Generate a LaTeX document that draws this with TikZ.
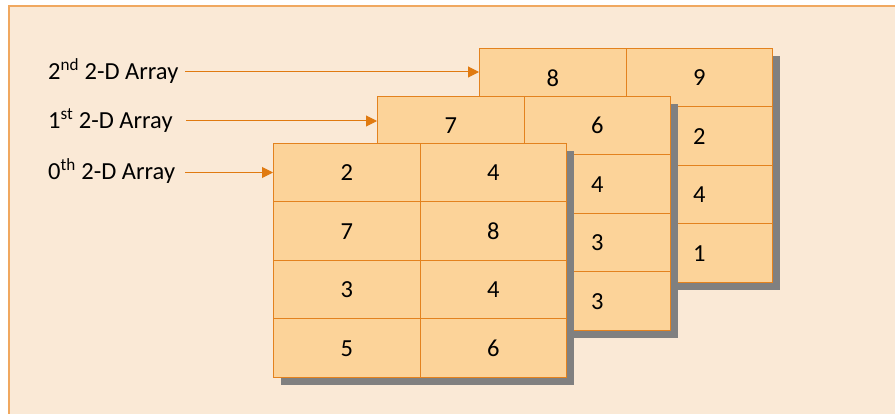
\documentclass[tikz,border=0pt]{standalone}
\usepackage{fontspec}
\setmainfont{Carlito}
\usetikzlibrary{arrows.meta}
\definecolor{bgfill}{HTML}{FAE9D6}
\definecolor{bgline}{HTML}{F0A860}
\definecolor{cellfill}{HTML}{FCD399}
\definecolor{cellline}{HTML}{E3821E}
\definecolor{arrowc}{HTML}{E07A10}
\definecolor{shadowc}{HTML}{808080}
\begin{document}
\begin{tikzpicture}[x=1pt,y=-1pt,
  cellbox/.style={draw=cellline, fill=cellfill, line width=1pt,
    minimum width=146.5pt, minimum height=58.5pt, inner sep=0pt,
    anchor=north west, font=\fontsize{24.5}{28}\selectfont},
  shadowbox/.style={fill=shadowc},
  labeltext/.style={anchor=base west, inner sep=0pt, font=\fontsize{24.5}{28}\selectfont},
  arr/.style={draw=arrowc, line width=1pt, -{Triangle[length=11pt,width=11pt]}, arrowc}]
\useasboundingbox (0,0) rectangle (895,414);
\fill[white] (0,0) rectangle (895,414);
\draw[bgline, fill=bgfill, line width=1.3pt] (9,6) rectangle (900,420);

% array 2 (back)
\fill[shadowbox] (487,56) rectangle (780,290);
\foreach \r/\a/\b [count=\i] in {0/8/9,1/2/2,2/4/4,3/1/1}{
  \node[cellbox] (a2r\i c1) at (479,48+58.5*\r) {\a};
  \node[cellbox] (a2r\i c2) at (625.5,48+58.5*\r) {\b};
}
% array 1 (middle)
\fill[shadowbox] (385,104) rectangle (678,338);
\foreach \r/\a/\b [count=\i] in {0/7/6,1/4/4,2/3/3,3/3/3}{
  \node[cellbox] (a1r\i c1) at (377,96+58.5*\r) {\a};
  \node[cellbox] (a1r\i c2) at (523.5,96+58.5*\r) {\b};
}
% array 0 (front)
\fill[shadowbox] (281,151) rectangle (574,385);
\foreach \r/\a/\b [count=\i] in {0/2/4,1/7/8,2/3/4,3/5/6}{
  \node[cellbox] (a0r\i c1) at (273,143+58.5*\r) {\a};
  \node[cellbox] (a0r\i c2) at (419.5,143+58.5*\r) {\b};
}

% labels
\node[labeltext] (l2) at (48,79.5) {2\textsuperscript{nd} 2-D Array};
\node[labeltext] (l1) at (48,128.5) {1\textsuperscript{st} 2-D Array};
\node[labeltext] (l0) at (48,180) {0\textsuperscript{th} 2-D Array};
\coordinate (s2) at (185,72);
\coordinate (s1) at (186,121);
\coordinate (s0) at (185,172.5);
\draw[arr] (s2) -- (s2 -| a2r1c1.west);
\draw[arr] (s1) -- (s1 -| a1r1c1.west);
\draw[arr] (s0) -- (s0 -| a0r1c1.west);
\end{tikzpicture}
\end{document}
